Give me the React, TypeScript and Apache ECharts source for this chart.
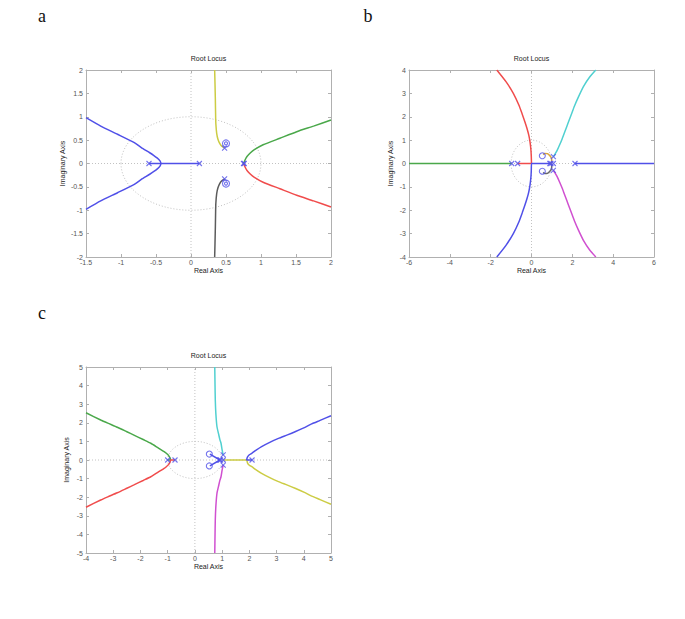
import React, { useEffect, useRef } from 'react';
import * as echarts from 'echarts';

// ---------- data ----------
// Panel a
const A_BLUE_REAL = [[-0.6, 0], [0.12, 0]];
const A_BLUE = [
  [-1.5, 0.98], [-1.29, 0.8], [-1.05, 0.625], [-0.81, 0.445], [-0.71, 0.34], [-0.59, 0.23], [-0.53, 0.17],
  [-0.485, 0.12], [-0.445, 0.06], [-0.43, 0], [-0.445, -0.06], [-0.485, -0.12], [-0.53, -0.17], [-0.59, -0.23],
  [-0.71, -0.34], [-0.81, -0.445], [-1.05, -0.625], [-1.29, -0.8], [-1.5, -0.98],
];
const A_YELLOW = [[0.48, 0.33], [0.44, 0.37], [0.41, 0.43], [0.385, 0.52], [0.367, 0.645], [0.355, 0.85], [0.352, 1.0], [0.348, 1.36], [0.343, 1.7], [0.338, 2.0]];
const A_BLACK = [[0.48, -0.33], [0.44, -0.37], [0.41, -0.43], [0.385, -0.52], [0.367, -0.645], [0.355, -0.85], [0.352, -1.0], [0.348, -1.36], [0.343, -1.7], [0.338, -2.0]];
const A_GREEN = [[0.75, 0], [0.77, 0.07], [0.8, 0.15], [0.85, 0.23], [0.9, 0.29], [1.03, 0.4], [1.27, 0.54], [1.51, 0.68], [1.75, 0.8], [2.0, 0.93]];
const A_RED = [[0.75, 0], [0.77, -0.07], [0.8, -0.15], [0.85, -0.23], [0.9, -0.29], [1.03, -0.4], [1.27, -0.54], [1.51, -0.68], [1.75, -0.8], [2.0, -0.93]];
const A_POLES = [[-0.6, 0], [0.12, 0], [0.75, 0], [0.76, 0], [0.48, 0.33], [0.48, -0.33]];
const A_ZEROS = [[0.5, 0.43], [0.5, -0.43]];

// Panel b
const B_GREEN = [[-6, 0], [-0.97, 0]];
const B_RED = [[-0.68, 0], [0, 0], [-0.01, 0.3], [-0.03, 0.6], [-0.07, 0.9], [-0.13, 1.2], [-0.22, 1.5], [-0.33, 1.8], [-0.45, 2.1], [-0.62, 2.5], [-0.89, 3.0], [-1.25, 3.5], [-1.7, 4.0]];
const B_BLUE = [[0.93, 0], [0, 0], [-0.01, -0.3], [-0.03, -0.6], [-0.07, -0.9], [-0.13, -1.2], [-0.22, -1.5], [-0.33, -1.8], [-0.45, -2.1], [-0.62, -2.5], [-0.89, -3.0], [-1.25, -3.5], [-1.7, -4.0]];
const B_BLUE_RIGHT = [[2.13, 0], [6, 0]];
const B_CYAN = [[1.07, 0.29], [1.15, 0.4], [1.25, 0.55], [1.38, 0.8], [1.5, 1.05], [1.65, 1.4], [1.8, 1.75], [1.95, 2.1], [2.1, 2.45], [2.3, 2.85], [2.55, 3.3], [2.85, 3.7], [3.15, 4.0]];
const B_MAGENTA = [[1.07, -0.29], [1.15, -0.4], [1.25, -0.55], [1.38, -0.8], [1.5, -1.05], [1.65, -1.4], [1.8, -1.75], [1.95, -2.1], [2.1, -2.45], [2.3, -2.85], [2.55, -3.3], [2.85, -3.7], [3.15, -4.0]];
const B_ORANGE = [[0.95, 0], [0.99, 0.1], [0.98, 0.22], [0.9, 0.33], [0.78, 0.42], [0.65, 0.43], [0.57, 0.38]];
const B_DARK = [[0.95, 0], [0.99, -0.1], [0.98, -0.22], [0.9, -0.33], [0.78, -0.42], [0.65, -0.43], [0.57, -0.38]];
const B_POLES = [[-0.97, 0], [-0.68, 0], [0.9, 0], [0.95, 0], [1.07, 0], [1.07, 0.29], [1.07, -0.29], [2.13, 0]];
const B_ZEROS = [[0.53, 0.33], [0.53, -0.33]];

// Panel c
const C_GREEN = [[-1.0, 0], [-0.89, 0], [-0.91, 0.1], [-0.97, 0.25], [-1.05, 0.36], [-1.13, 0.45], [-1.35, 0.65], [-1.62, 0.9], [-1.9, 1.1], [-2.24, 1.34], [-2.5, 1.52], [-2.85, 1.76], [-3.2, 1.98], [-3.46, 2.15], [-4.0, 2.54]];
const C_RED = [[-0.73, 0], [-0.89, 0], [-0.91, -0.1], [-0.97, -0.25], [-1.05, -0.36], [-1.13, -0.45], [-1.35, -0.65], [-1.62, -0.9], [-1.9, -1.1], [-2.24, -1.34], [-2.5, -1.52], [-2.85, -1.76], [-3.2, -1.98], [-3.46, -2.15], [-4.0, -2.54]];
const C_CYAN = [[1.04, 0.27], [1.02, 0.4], [1.0, 0.54], [0.96, 0.9], [0.92, 1.08], [0.87, 1.4], [0.81, 1.8], [0.77, 2.5], [0.75, 3.2], [0.74, 4.0], [0.73, 5.0]];
const C_MAGENTA = [[1.04, -0.27], [1.02, -0.4], [1.0, -0.54], [0.96, -0.9], [0.92, -1.08], [0.87, -1.4], [0.81, -1.8], [0.77, -2.5], [0.75, -3.2], [0.74, -4.0], [0.73, -5.0]];
const C_YELLOW = [[1.04, 0], [1.9, 0], [1.93, -0.15], [2.0, -0.28], [2.09, -0.36], [2.25, -0.53], [2.45, -0.72], [2.75, -0.95], [3.07, -1.16], [3.4, -1.35], [3.68, -1.52], [4.0, -1.73], [4.29, -1.94], [4.6, -2.13], [5.0, -2.38]];
const C_BLUE = [[2.1, 0], [1.9, 0], [1.93, 0.15], [2.0, 0.28], [2.09, 0.36], [2.25, 0.53], [2.45, 0.72], [2.75, 0.95], [3.07, 1.16], [3.4, 1.35], [3.68, 1.52], [4.0, 1.73], [4.29, 1.94], [4.6, 2.13], [5.0, 2.38]];
const C_BLUE_UP = [[0.92, 0], [0.55, 0.32]];
const C_BLUE_DOWN = [[0.92, 0], [0.55, -0.32]];
const C_POLES = [[-1.0, 0], [-0.73, 0], [0.9, 0], [0.94, 0], [1.04, 0], [1.04, 0.27], [1.04, -0.27], [2.1, 0]];
const C_ZEROS = [[0.53, 0.32], [0.53, -0.32]];

// axis ranges
const A_XAXIS = { min: -1.5, max: 2, interval: 0.5 };
const A_YAXIS = { min: -2, max: 2, interval: 0.5 };
const B_XAXIS = { min: -6, max: 6, interval: 2 };
const B_YAXIS = { min: -4, max: 4, interval: 1 };
const C_XAXIS = { min: -4, max: 5, interval: 1 };
const C_YAXIS = { min: -5, max: 5, interval: 1 };

const PANEL_LETTERS = ['a', 'b', 'c'];
const TITLE = 'Root Locus';
const X_NAME = 'Real Axis';
const Y_NAME = 'Imaginary Axis';

// ---------- styles ----------
const COL = {
  blue: '#5050e8',
  green: '#4aa84a',
  red: '#f04c4c',
  cyan: '#50d0d0',
  magenta: '#d050d0',
  yellow: '#cccc44',
  orange: '#dba63a',
  black: '#5c5c5c',
  dark: '#6a6a6a',
};
const AXIS_GRAY = '#b0b0b0';
const GUIDE_GRAY = '#c2c2c2';
const LABEL_COLOR = '#555';
const FONT = '"Liberation Sans", Arial, sans-serif';
const LINE_W = 1.5;

const GRIDS = [
  { left: 86, top: 70, width: 245, height: 187, yNameGap: 20 },
  { left: 409, top: 70, width: 245, height: 187, yNameGap: 15 },
  { left: 86, top: 367, width: 245, height: 186, yNameGap: 16 },
];
const LETTER_POS = [[42, 16], [368, 16], [42, 313]];

const CROSS = 'path://M0,0L10,10M10,0L0,10';

export default function App() {
  const ref = useRef<HTMLDivElement>(null);

  useEffect(() => {
    const chart = echarts.init(ref.current!, null, { renderer: 'svg' });
    const ranges = [
      [A_XAXIS, A_YAXIS],
      [B_XAXIS, B_YAXIS],
      [C_XAXIS, C_YAXIS],
    ];

    const xAxes: any[] = [];
    const yAxes: any[] = [];
    ranges.forEach(([xr, yr], i) => {
      const common = () => ({
        type: 'value',
        gridIndex: i,
        splitLine: { show: false },
        axisLine: { show: true, onZero: false, lineStyle: { color: AXIS_GRAY, width: 1 } },
        axisTick: { show: true, inside: true, length: 3, lineStyle: { color: AXIS_GRAY } },
      });
      xAxes.push({
        ...common(),
        ...xr,
        position: 'bottom',
        name: X_NAME,
        nameLocation: 'middle',
        nameGap: 10,
        nameTextStyle: { fontSize: 7, color: '#222', fontFamily: FONT },
        axisLabel: { fontSize: 7, color: LABEL_COLOR, margin: 2, fontFamily: FONT },
      });
      xAxes.push({ ...common(), ...xr, position: 'top', axisLabel: { show: false } });
      yAxes.push({
        ...common(),
        ...yr,
        position: 'left',
        name: Y_NAME,
        nameLocation: 'middle',
        nameGap: GRIDS[i].yNameGap,
        nameRotate: 90,
        nameTextStyle: { fontSize: 7, color: '#222', fontFamily: FONT },
        axisLabel: { fontSize: 7, color: LABEL_COLOR, margin: 3, fontFamily: FONT },
      });
      yAxes.push({ ...common(), ...yr, position: 'right', axisLabel: { show: false } });
    });

    const line = (g: number, data: number[][], color: string) => ({
      type: 'line',
      xAxisIndex: 2 * g,
      yAxisIndex: 2 * g,
      data,
      showSymbol: false,
      symbol: 'none',
      smooth: 0.2,
      silent: true,
      z: 3,
      lineStyle: { color, width: LINE_W },
      itemStyle: { color },
    });
    const poles = (g: number, data: number[][]) => ({
      type: 'scatter',
      xAxisIndex: 2 * g,
      yAxisIndex: 2 * g,
      data,
      symbol: CROSS,
      symbolSize: 5,
      silent: true,
      z: 4,
      itemStyle: { color: 'none', borderColor: COL.blue, borderWidth: 1.1 },
    });
    const zeros = (g: number, data: number[][], size: number) => ({
      type: 'scatter',
      xAxisIndex: 2 * g,
      yAxisIndex: 2 * g,
      data,
      symbol: 'circle',
      symbolSize: size,
      silent: true,
      z: 4,
      itemStyle: { color: 'none', borderColor: COL.blue, borderWidth: 1.1 },
    });

    const series: any[] = [
      // a
      line(0, A_BLUE_REAL, COL.blue),
      line(0, A_BLUE, COL.blue),
      line(0, A_YELLOW, COL.yellow),
      line(0, A_BLACK, COL.black),
      line(0, A_GREEN, COL.green),
      line(0, A_RED, COL.red),
      poles(0, A_POLES),
      zeros(0, A_ZEROS, 7),
      zeros(0, A_ZEROS, 3),
      // b
      line(1, B_GREEN, COL.green),
      line(1, B_RED, COL.red),
      line(1, B_BLUE, COL.blue),
      line(1, B_BLUE_RIGHT, COL.blue),
      line(1, B_CYAN, COL.cyan),
      line(1, B_MAGENTA, COL.magenta),
      line(1, B_ORANGE, COL.orange),
      line(1, B_DARK, COL.dark),
      poles(1, B_POLES),
      zeros(1, B_ZEROS, 6),
      // c
      line(2, C_GREEN, COL.green),
      line(2, C_RED, COL.red),
      line(2, C_CYAN, COL.cyan),
      line(2, C_MAGENTA, COL.magenta),
      line(2, C_YELLOW, COL.yellow),
      line(2, C_BLUE, COL.blue),
      line(2, C_BLUE_UP, COL.blue),
      line(2, C_BLUE_DOWN, COL.blue),
      poles(2, C_POLES),
      zeros(2, C_ZEROS, 6),
    ];

    chart.setOption({
      animation: false,
      backgroundColor: '#ffffff',
      grid: GRIDS.map((g) => ({
        left: g.left,
        top: g.top,
        width: g.width,
        height: g.height,
        containLabel: false,
        show: false,
      })),
      xAxis: xAxes,
      yAxis: yAxes,
      series,
    });

    // graphics: panel letters, titles, guide lines and unit circles (placed through the axes' scales)
    const elements: any[] = [];
    const guideStyle = () => ({ fill: null, stroke: GUIDE_GRAY, lineWidth: 1, lineDash: [1, 2] });
    GRIDS.forEach((g, i) => {
      const [xr, yr] = ranges[i];
      elements.push({
        type: 'text',
        x: LETTER_POS[i][0],
        y: LETTER_POS[i][1],
        style: {
          text: PANEL_LETTERS[i],
          fontSize: 18,
          fontFamily: '"Liberation Serif", "Times New Roman", serif',
          fill: '#111',
          align: 'center',
          verticalAlign: 'middle',
        },
      });
      elements.push({
        type: 'text',
        x: g.left + g.width / 2,
        y: g.top - 12,
        style: {
          text: TITLE,
          fontSize: 7,
          fontFamily: FONT,
          fill: '#222',
          align: 'center',
          verticalAlign: 'middle',
        },
      });
      const finder = { xAxisIndex: 2 * i, yAxisIndex: 2 * i };
      const px = (p: number[]) => chart.convertToPixel(finder, p) as number[];
      const c0 = px([0, 0]);
      const c1 = px([1, 1]);
      const h0 = px([xr.min, 0]);
      const h1 = px([xr.max, 0]);
      const v0 = px([0, yr.min]);
      const v1 = px([0, yr.max]);
      elements.push({
        type: 'line',
        z: 0,
        silent: true,
        shape: { x1: h0[0], y1: h0[1], x2: h1[0], y2: h1[1] },
        style: guideStyle(),
      });
      elements.push({
        type: 'line',
        z: 0,
        silent: true,
        shape: { x1: v0[0], y1: v0[1], x2: v1[0], y2: v1[1] },
        style: guideStyle(),
      });
      elements.push({
        type: 'ellipse',
        z: 0,
        silent: true,
        shape: { cx: c0[0], cy: c0[1], rx: Math.abs(c1[0] - c0[0]), ry: Math.abs(c0[1] - c1[1]) },
        style: guideStyle(),
      });
    });
    chart.setOption({ graphic: { elements } });

    return () => chart.dispose();
  }, []);

  return (
    <div
      ref={ref}
      style={{ position: 'fixed', left: 0, top: 0, width: 685, height: 619, background: '#fff' }}
    />
  );
}
